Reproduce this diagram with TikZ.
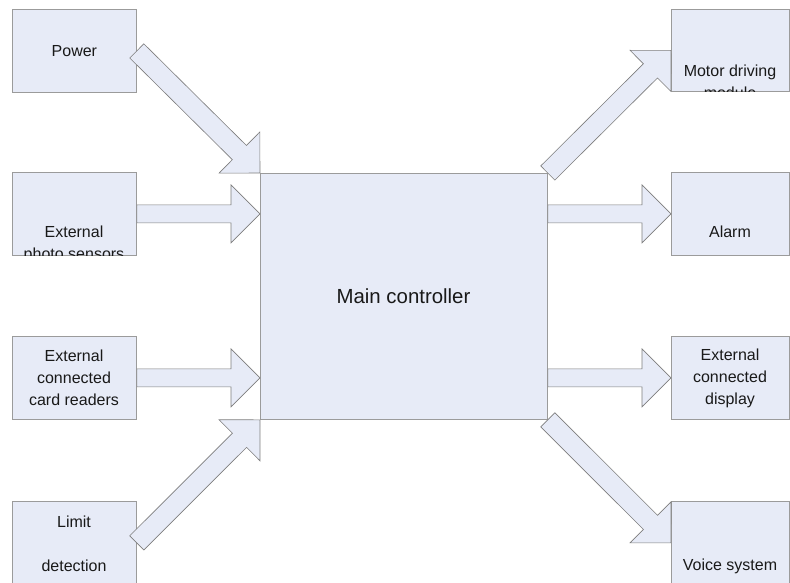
\documentclass[tikz,border=0pt]{standalone}
\usepackage{fontspec}
\setmainfont{Liberation Sans}
\usetikzlibrary{calc}
\definecolor{boxfill}{RGB}{231,235,247}
\definecolor{boxline}{RGB}{155,155,155}
\definecolor{arrline}{RGB}{125,125,125}
\tikzset{
  box/.style={draw=boxline, fill=boxfill, line width=0.8pt, anchor=north west, inner sep=0pt},
  arrowstyle/.style={draw=arrline, fill=boxfill, line width=0.6pt, line join=miter},
  txt/.style={align=center, inner sep=0pt, font=\fontsize{16}{22}\selectfont, text=black!90},
  bigtxt/.style={align=center, inner sep=0pt, font=\fontsize{20.4}{24}\selectfont, text=black!90}
}
\newcommand\blockarrow[4]{% from, to, shaft half width, head half width
  \coordinate (ba-a) at (#1);
  \coordinate (ba-b) at (#2);
  \coordinate (ba-h) at ($(ba-b)!29pt!(ba-a)$);
  \filldraw[arrowstyle] ($(ba-a)!#3!90:(ba-b)$) -- ($(ba-h)!#3!90:(ba-b)$) -- ($(ba-h)!#4!90:(ba-b)$) -- (ba-b)
    -- ($(ba-h)!#4!-90:(ba-b)$) -- ($(ba-h)!#3!-90:(ba-b)$) -- ($(ba-a)!#3!-90:(ba-b)$) -- cycle;}
\begin{document}
\begin{tikzpicture}[x=1pt,y=-1pt]
\useasboundingbox (0,0) rectangle (790,583);
% boxes
\node[box, minimum width=124pt, minimum height=83pt] (power) at (12,9) {};
\node[box, minimum width=124pt, minimum height=83pt] (photo) at (12,172) {};
\node[box, minimum width=124pt, minimum height=83pt] (card) at (12,336) {};
\node[box, minimum width=124pt, minimum height=83pt] (limit) at (12,501) {};
\node[box, minimum width=287pt, minimum height=246pt] (main) at (260,173) {};
\node[box, minimum width=118pt, minimum height=82pt] (motor) at (671,9) {};
\node[box, minimum width=118pt, minimum height=83pt] (alarm) at (671,172) {};
\node[box, minimum width=118pt, minimum height=83pt] (display) at (671,336) {};
\node[box, minimum width=118pt, minimum height=83pt] (voice) at (671,501) {};
% texts
\node[txt] (tpower) at (power.center) {Power};
\begin{scope}
  \clip (photo.south west) rectangle (photo.north east);
  \node[txt] (tphoto) at (74,244) {External\\photo sensors};
\end{scope}
\node[txt] (tcard) at (74,378) {External\\connected\\card readers};
\begin{scope}
  \clip (limit.south west) rectangle (limit.north east);
  \node[txt] (tlimit) at (74,544) {Limit\\\mbox{}\\detection};
\end{scope}
\node[bigtxt] (tmain) at (403.5,296) {Main controller};
\begin{scope}
  \clip (motor.south west) rectangle (motor.north east);
  \node[txt] (tmotor) at (730,82) {Motor driving\\module};
\end{scope}
\node[txt] (talarm) at (730,232) {Alarm};
\node[txt] (tdisplay) at (730,378) {External\\connected\\display};
\node[txt] (tvoice) at (730,566) {Voice system};
% arrows
\blockarrow{power.east}{main.north west}{10pt}{29pt}
\blockarrow{photo.east}{main.west |- photo.east}{9pt}{29pt}
\blockarrow{card.east}{main.west |- card.east}{9pt}{29pt}
\blockarrow{limit.east}{main.south west}{10pt}{29pt}
\blockarrow{main.north east}{motor.west}{10pt}{29pt}
\blockarrow{main.east |- alarm.west}{alarm.west}{9pt}{29pt}
\blockarrow{main.east |- display.west}{display.west}{9pt}{29pt}
\blockarrow{main.south east}{voice.west}{10pt}{29pt}
\end{tikzpicture}
\end{document}
